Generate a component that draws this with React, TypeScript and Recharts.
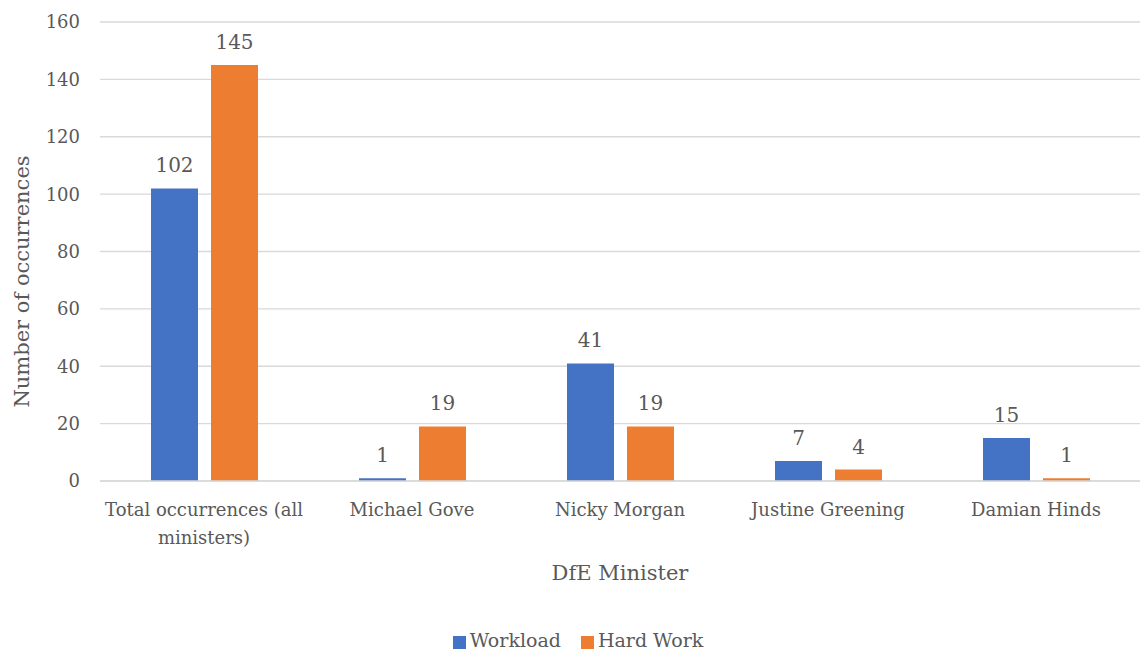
import React from "react";
import {
  BarChart,
  Bar,
  XAxis,
  YAxis,
  CartesianGrid,
  Legend,
  LabelList,
} from "recharts";

const ministers = [
  "Total occurrences (all ministers)",
  "Michael Gove",
  "Nicky Morgan",
  "Justine Greening",
  "Damian Hinds",
];
const workload = [102, 1, 41, 7, 15];
const hardWork = [145, 19, 19, 4, 1];
const yTicks = [0, 20, 40, 60, 80, 100, 120, 140, 160];
const seriesNames = ["Workload", "Hard Work"];

const data = ministers.map((name, i) => ({
  name,
  workload: workload[i],
  hardWork: hardWork[i],
}));

const FONT = "'DejaVu Serif', 'Liberation Serif', serif";
const TEXT = "#595959";
const FS = 18;

// wrap long category names onto several lines, like the original
const wrapLabel = (label: string, maxChars = 24) => {
  const lines: string[] = [];
  let cur = "";
  label.split(" ").forEach((w) => {
    if (cur && (cur + " " + w).length > maxChars) {
      lines.push(cur);
      cur = w;
    } else {
      cur = cur ? cur + " " + w : w;
    }
  });
  if (cur) lines.push(cur);
  return lines;
};

const CategoryTick = (props: any) => {
  const { x, y, payload } = props;
  const lines = wrapLabel(payload.value);
  return (
    <text
      x={x}
      y={y}
      textAnchor="middle"
      fill={TEXT}
      style={{ fontSize: FS, fontFamily: FONT }}
    >
      {lines.map((l, i) => (
        <tspan key={i} x={x} dy={i === 0 ? 27 : 28}>
          {l}
        </tspan>
      ))}
    </text>
  );
};

// y axis title, sitting a little below the plot's middle as in the original
const YTitle = (props: any) => {
  const vb = props.viewBox || {};
  const cx = 22;
  const cy = vb.y + vb.height / 2 + 30;
  return (
    <text
      x={cx}
      y={cy}
      transform={`rotate(-90, ${cx}, ${cy})`}
      textAnchor="middle"
      dominantBaseline="central"
      fill={TEXT}
      style={{ fontSize: 21, fontFamily: FONT }}
    >
      Number of occurrences
    </text>
  );
};

const App: React.FC = () => {
  return (
    <div style={{ position: "absolute", left: 0, top: 0, fontFamily: FONT }}>
      <BarChart
        width={1140}
        height={651}
        data={data}
        margin={{ top: 22, right: 0, left: 0, bottom: 0 }}
        barGap={13}
        style={{ fontFamily: FONT }}
      >
        <CartesianGrid vertical={false} stroke="#D9D9D9" strokeWidth={1.3} />
        <XAxis
          dataKey="name"
          interval={0}
          height={148}
          tick={<CategoryTick />}
          tickLine={false}
          axisLine={{ stroke: "#D9D9D9", strokeWidth: 1.3 }}
          label={{
            value: "DfE Minister",
            position: "insideBottom",
            offset: 49,
            fill: TEXT,
            style: { fontSize: 21, fontFamily: FONT },
          }}
        />
        <YAxis
          width={100}
          domain={[0, 160]}
          ticks={yTicks}
          axisLine={false}
          tickLine={false}
          tickSize={0}
          tickMargin={20}
          tick={{ fill: TEXT, style: { fontSize: FS, fontFamily: FONT } }}
          label={<YTitle />}
        />
        <Legend
          verticalAlign="bottom"
          iconType="square"
          iconSize={13}
          itemSorter={(item: any) => seriesNames.indexOf(item.value)}
          wrapperStyle={{
            fontSize: 19,
            fontFamily: FONT,
            color: TEXT,
            paddingLeft: 18,
          }}
          formatter={(value) => (
            <span style={{ color: TEXT, marginRight: 10 }}>{value}</span>
          )}
        />
        <Bar
          dataKey="workload"
          name={seriesNames[0]}
          fill="#4472C4"
          barSize={47}
          isAnimationActive={false}
        >
          <LabelList
            dataKey="workload"
            position="top"
            offset={16}
            fill={TEXT}
            style={{ fontSize: 20, fontFamily: FONT }}
          />
        </Bar>
        <Bar
          dataKey="hardWork"
          name={seriesNames[1]}
          fill="#ED7D31"
          barSize={47}
          isAnimationActive={false}
        >
          <LabelList
            dataKey="hardWork"
            position="top"
            offset={16}
            fill={TEXT}
            style={{ fontSize: 20, fontFamily: FONT }}
          />
        </Bar>
      </BarChart>
    </div>
  );
};

export default App;
